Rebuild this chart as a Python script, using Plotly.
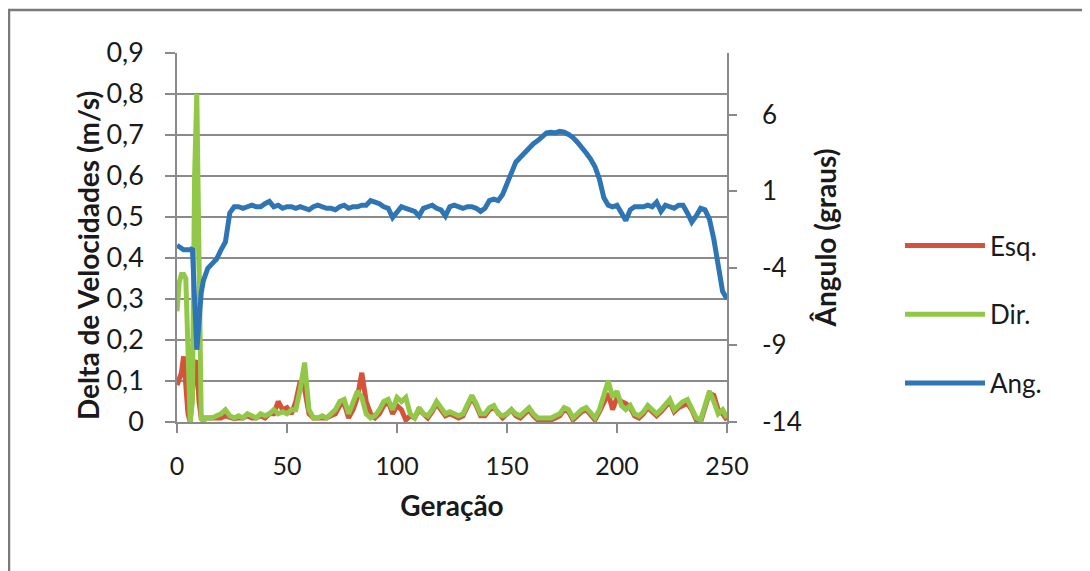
import plotly.graph_objects as go

# ---------------- data ----------------
geracao = list(range(0, 15)) + list(range(16, 251, 2))

esq = [0.09, 0.11, 0.12, 0.16, 0.10, 0.02, 0.00, 0.06, 0.14, 0.15, 0.05, 0.01, 0.01, 0.008, 0.01,
       0.01, 0.008, 0.01, 0.015, 0.01, 0.008, 0.01, 0.01, 0.015, 0.01,
       0.01, 0.015, 0.01, 0.02, 0.02, 0.05, 0.03, 0.035, 0.02, 0.05,
       0.10, 0.08, 0.02, 0.01, 0.01, 0.01, 0.01, 0.015, 0.02, 0.04,
       0.045, 0.01, 0.03, 0.06, 0.12, 0.05, 0.02, 0.01, 0.02, 0.04,
       0.05, 0.02, 0.04, 0.03, 0.005, 0.015, 0.01, 0.03, 0.02, 0.01,
       0.025, 0.045, 0.03, 0.015, 0.02, 0.015, 0.01, 0.015, 0.035, 0.06,
       0.04, 0.015, 0.015, 0.03, 0.035, 0.02, 0.01, 0.02, 0.03, 0.015,
       0.01, 0.02, 0.03, 0.015, 0.005, 0.005, 0.005, 0.005, 0.01, 0.015,
       0.03, 0.025, 0.005, 0.015, 0.025, 0.03, 0.015, 0.005, 0.025, 0.05,
       0.07, 0.03, 0.06, 0.05, 0.045, 0.035, 0.015, 0.01, 0.02, 0.035,
       0.025, 0.015, 0.025, 0.04, 0.05, 0.025, 0.035, 0.04, 0.045, 0.03,
       0.005, 0.0, 0.035, 0.07, 0.065, 0.03, 0.02, 0.005]

dir_ = [0.27, 0.34, 0.36, 0.36, 0.35, 0.15, 0.00, 0.05, 0.60, 0.80, 0.25, 0.01, 0.00, 0.01, 0.01,
        0.01, 0.015, 0.02, 0.03, 0.015, 0.01, 0.015, 0.01, 0.02, 0.015,
        0.01, 0.02, 0.015, 0.02, 0.03, 0.02, 0.025, 0.02, 0.03, 0.03,
        0.08, 0.145, 0.03, 0.01, 0.01, 0.015, 0.01, 0.02, 0.03, 0.05,
        0.055, 0.02, 0.05, 0.075, 0.06, 0.02, 0.01, 0.015, 0.03, 0.05,
        0.055, 0.03, 0.06, 0.05, 0.06, 0.02, 0.01, 0.035, 0.02, 0.015,
        0.03, 0.05, 0.035, 0.02, 0.025, 0.02, 0.015, 0.02, 0.04, 0.065,
        0.045, 0.02, 0.02, 0.035, 0.04, 0.02, 0.015, 0.02, 0.03, 0.02,
        0.015, 0.025, 0.035, 0.02, 0.01, 0.01, 0.01, 0.01, 0.015, 0.02,
        0.035, 0.03, 0.01, 0.02, 0.03, 0.035, 0.02, 0.01, 0.03, 0.07,
        0.10, 0.06, 0.075, 0.04, 0.03, 0.04, 0.02, 0.015, 0.025, 0.04,
        0.03, 0.02, 0.03, 0.045, 0.055, 0.03, 0.04, 0.05, 0.055, 0.035,
        0.01, 0.005, 0.04, 0.075, 0.05, 0.02, 0.03, 0.01]

ang = [-2.5, -2.6, -2.7, -2.8, -2.8, -2.8, -2.8, -2.7, -6.0, -9.3, -7.5, -5.6, -4.8, -4.3, -4.0,
       -3.7, -3.4, -2.8, -2.3, -0.4, 0.0, 0.0, -0.1, 0.0, 0.1,
       0.0, 0.0, 0.2, 0.35, 0.0, 0.1, -0.1, 0.0, 0.0, -0.1,
       0.0, -0.1, -0.2, 0.0, 0.1, 0.0, -0.1, -0.1, -0.2, 0.0,
       0.1, -0.1, 0.0, 0.0, 0.1, 0.1, 0.4, 0.3, 0.2, 0.0,
       -0.1, -0.7, -0.3, 0.0, -0.1, -0.2, -0.3, -0.6, -0.1, 0.0,
       0.1, -0.1, -0.2, -0.6, 0.0, 0.1, 0.0, -0.1, 0.0, 0.0,
       -0.1, -0.3, -0.1, 0.4, 0.5, 0.4, 0.8, 1.5, 2.4, 2.9,
       3.2, 3.5, 3.9, 4.1, 4.3, 4.6, 4.8, 4.85, 4.8, 4.9,
       4.85, 4.7, 4.5, 4.2, 3.9, 3.5, 3.1, 2.6, 1.8, 0.6,
       0.1, 0.0, 0.1, -0.4, -0.9, -0.2, 0.0, 0.0, 0.0, 0.1,
       0.0, 0.3, -0.3, 0.1, 0.0, -0.1, 0.1, 0.1, -0.4, -1.0,
       -0.6, -0.1, -0.2, -0.8, -2.1, -4.0, -5.5, -6.0]

x_ticks = [0, 50, 100, 150, 200, 250]
y_ticks = [0, 0.1, 0.2, 0.3, 0.4, 0.5, 0.6, 0.7, 0.8, 0.9]
y_ticklabels = ["0", "0,1", "0,2", "0,3", "0,4", "0,5", "0,6", "0,7", "0,8", "0,9"]
y2_ticks = [-14, -9, -4, 1, 6]
y2_ticklabels = ["-14", "-9", "-4", "1", "6"]

# ---------------- figure ----------------
FONT = "Lato"
GRID = "#8a8a8a"
TXT = "#1a1a1a"
W, H = 1082, 563
ML, MR, MT, MB = 169, 363, 45, 149
PW, PH = W - ML - MR, H - MT - MB


def px(xp):
    return (xp - ML) / PW


def py(yp):
    return (H - MB - yp) / PH


fig = go.Figure()
fig.add_trace(go.Scatter(x=geracao, y=esq, name="Esq.", mode="lines",
                         line=dict(color="#D5533A", width=5), legendgroup="a"))
fig.add_trace(go.Scatter(x=geracao, y=dir_, name="Dir.", mode="lines",
                         line=dict(color="#92C848", width=5), legendgroup="b"))
fig.add_trace(go.Scatter(x=geracao, y=ang, name="Ang.", mode="lines", yaxis="y2",
                         line=dict(color="#2E75B6", width=5), legendgroup="c"))

fig.update_layout(
    width=W, height=H,
    margin=dict(l=ML, r=MR, t=MT, b=MB),
    paper_bgcolor="white", plot_bgcolor="white",
    font=dict(family=FONT, color=TXT, size=24),
    xaxis=dict(range=[0, 250], tickvals=x_ticks, showgrid=False, zeroline=False,
               showline=True, linecolor=GRID, linewidth=1.5,
               ticks="outside", ticklen=9, tickcolor=GRID, tickwidth=1.5,
               ticklabelstandoff=12, tickfont=dict(size=25),
               title=dict(text="<b>Geração</b>", font=dict(size=28), standoff=18)),
    yaxis=dict(range=[0, 0.9], tickvals=y_ticks, ticktext=y_ticklabels,
               showgrid=True, gridcolor=GRID, gridwidth=1.5, zeroline=False,
               showline=True, linecolor=GRID, linewidth=1.5,
               ticks="outside", ticklen=10, tickcolor=GRID, tickwidth=1.5,
               ticklabelstandoff=16, tickfont=dict(size=27)),
    yaxis2=dict(range=[-14, 10], tickvals=y2_ticks, ticktext=y2_ticklabels,
                overlaying="y", side="right",
                showgrid=False, zeroline=False,
                showline=True, linecolor=GRID, linewidth=1.5,
                ticks="outside", ticklen=8, tickcolor=GRID, tickwidth=1.5,
                ticklabelstandoff=20, tickfont=dict(size=26),
                title=dict(text="<b>Ângulo (graus)</b>", font=dict(size=28), standoff=16)),
    legend=dict(x=px(892), xanchor="left", y=py(214), yanchor="top",
                font=dict(size=26), itemwidth=80, tracegroupgap=32,
                bgcolor="rgba(0,0,0,0)"),
    showlegend=True,
)

# left axis title (placed like the original, slightly below the plot centre)
fig.add_annotation(text="<b>Delta de Velocidades (m/s)</b>", xref="paper", yref="paper",
                   x=px(80), y=py(248), xanchor="center", yanchor="middle",
                   textangle=-90, showarrow=False, font=dict(size=28, family=FONT, color=TXT))

# outer chart frame (top and left edges only)
fig.add_shape(type="line", xref="paper", yref="paper",
              x0=px(0), x1=px(W), y0=py(2), y1=py(2),
              line=dict(color="#7a7a7a", width=2.5))
fig.add_shape(type="line", xref="paper", yref="paper",
              x0=px(1), x1=px(1), y0=py(2), y1=py(H),
              line=dict(color="#7a7a7a", width=2.5))

fig.write_html("out.html")
